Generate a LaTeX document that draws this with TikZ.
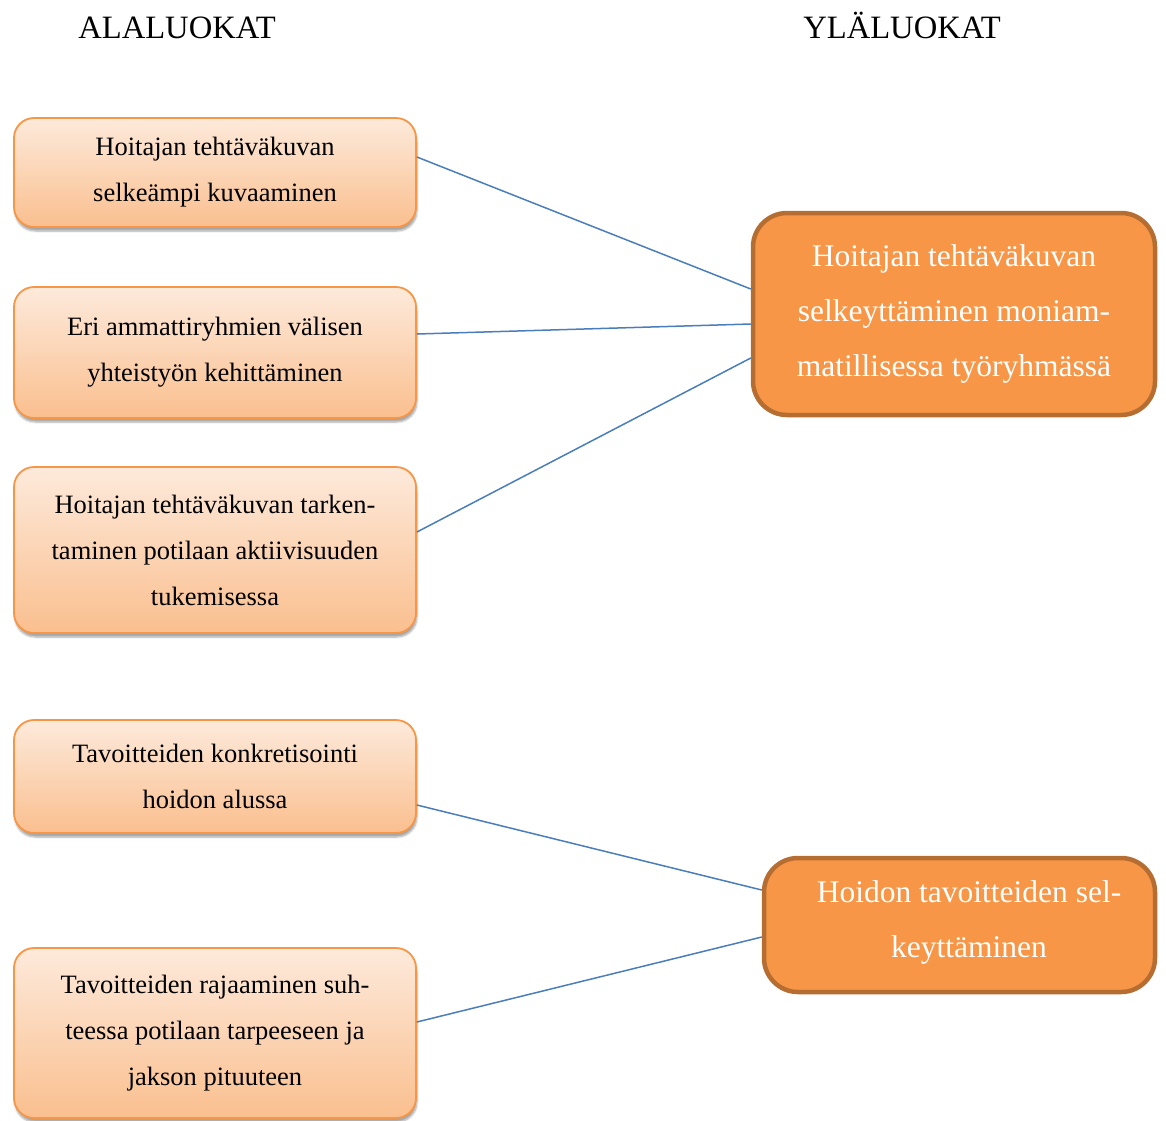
\documentclass[tikz,border=0pt]{standalone}
\usepackage{fontspec}
\setmainfont{Liberation Serif}
\usetikzlibrary{shadows.blur}

\definecolor{subtop}{RGB}{253,234,219}
\definecolor{subbottom}{RGB}{250,191,143}
\definecolor{subedge}{RGB}{247,150,70}
\definecolor{mainfill}{RGB}{247,150,70}
\definecolor{mainedge}{RGB}{182,109,49}
\definecolor{linkblue}{RGB}{74,126,187}

\tikzset{
  subbox/.style={draw=subedge, line width=1.8pt, rounded corners=20pt,
    top color=subtop, bottom color=subbottom,
    minimum width=402pt, align=center, inner sep=0pt,
    font=\fontsize{26.5pt}{46pt}\selectfont,
    blur shadow={shadow xshift=1pt, shadow yshift=-4pt,
      shadow blur steps=6, shadow opacity=35}},
  mainbox/.style={draw=mainedge, line width=4.5pt, rounded corners=34pt,
    fill=mainfill, text=white, align=center, inner sep=0pt,
    font=\fontsize{31.5pt}{55pt}\selectfont},
  maintext/.style={text=white, align=center, inner sep=0pt,
    font=\fontsize{31.5pt}{55pt}\selectfont},
  heading/.style={font=\fontsize{32.6pt}{38pt}\selectfont, inner sep=0pt, anchor=base},
  link/.style={draw=linkblue, line width=1.5pt}
}

\begin{document}
\begin{tikzpicture}[x=1pt, y=-1pt]
  \useasboundingbox (0,0) rectangle (1166,1120);

  % column headings, sharing one baseline
  \node[heading] (hsub) at (177,38) {ALALUOKAT};
  \node[heading] (hmain) at (902,38) {YLÄLUOKAT};

  % subcategories
  \node[subbox, minimum height=109pt] (s1) at (215,172.5)
    {Hoitajan tehtäväkuvan\\selkeämpi kuvaaminen};
  \node[subbox, minimum height=131pt] (s2) at (215,352.5)
    {Eri ammattiryhmien välisen\\yhteistyön kehittäminen};
  \node[subbox, minimum height=166pt] (s3) at (215,550)
    {Hoitajan tehtäväkuvan tarken-\\taminen potilaan aktiivisuuden\\tukemisessa};
  \node[subbox, minimum height=113pt] (s4) at (215,776.5)
    {Tavoitteiden konkretisointi\\hoidon alussa};
  \node[subbox, minimum height=170pt] (s5) at (215,1033)
    {Tavoitteiden rajaaminen suh-\\teessa potilaan tarpeeseen ja\\jakson pituuteen};

  % main categories
  \node[mainbox, minimum width=402pt, minimum height=202pt] (m1) at (954,314)
    {Hoitajan tehtäväkuvan\\selkeyttäminen moniam-\\matillisessa työryhmässä};
  \node[mainbox, minimum width=391pt, minimum height=134pt] (m2) at (959.5,925) {};
  \node[maintext] (m2text) at (969,922)
    {Hoidon tavoitteiden sel-\\keyttäminen};

  % connectors
  \draw[link] ([yshift=15.5pt]s1.east) -- ([yshift=25pt]m1.west);
  \draw[link] ([yshift=18.5pt]s2.east) -- ([yshift=-10pt]m1.west);
  \draw[link] ([yshift=18pt]s3.east) -- ([yshift=-44pt]m1.west);
  \draw[link] ([yshift=-28.5pt]s4.east) -- ([yshift=35pt]m2.west);
  \draw[link] ([yshift=11pt]s5.east) -- ([yshift=-12pt]m2.west);
\end{tikzpicture}
\end{document}
